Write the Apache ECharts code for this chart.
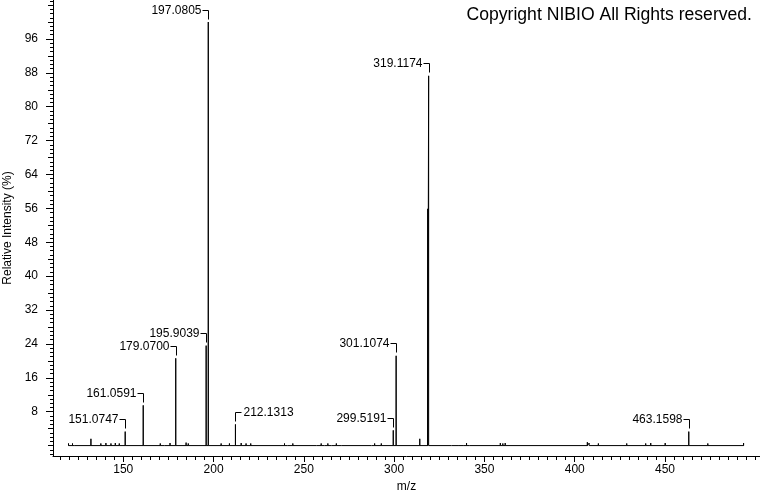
<!DOCTYPE html>
<html><head><meta charset="utf-8">
<script src="https://cdn.jsdelivr.net/npm/echarts@6/dist/echarts.min.js"></script>
<style>html,body{margin:0;padding:0;background:#fff}#c{width:760px;height:492px}</style>
</head><body><div id="c"></div>
<script>
// Minor (unlabelled) peaks: m/z and relative intensity (%)
const minorMz = [119.7,121.9,123.2,132.1,137.6,140.4,143.2,145.6,147.8,170.5,172.7,175.9,184.8,186.0,
  204.2,208.8,215.3,218.0,220.6,239.3,241.1,243.9,256.9,259.6,261.5,263.3,265.2,268.0,270.7,287.4,289.2,292.9,
  314.2,318.6,331.7,335.4,338.2,340.1,341.9,358.8,360.2,361.5,407.0,408.0,413.1,428.8,439.3,442.1,450.1,473.7,493.5];
const minorInt = [0.5,0.5,0.4,1.6,0.5,0.6,0.5,0.6,0.5,0.5,0.4,0.6,0.7,0.5,
  0.5,0.5,0.6,0.5,0.5,0.5,0.4,0.5,0.4,0.5,0.4,0.5,0.4,0.5,0.4,0.4,0.5,0.5,
  1.6,55.9,0.4,0.4,0.4,0.6,0.4,0.6,0.5,0.6,0.8,0.6,0.5,0.5,0.5,0.6,0.6,0.5,0.6];
// Labelled peaks
const labelMz = [151.0747,161.0591,179.0700,195.9039,197.0805,212.1313,299.5191,301.1074,319.1174,463.1598];
const labelInt = [3.3,9.5,20.6,23.6,100,5.0,3.6,21.2,87.3,3.3];
const labelText = ['151.0747','161.0591','179.0700','195.9039','197.0805','212.1313','299.5191','301.1074','319.1174','463.1598'];
const labelSide = ['left','left','left','left','left','right','left','left','left','left'];
// Axis ticks / labels
const xLabelValues = [150,200,250,300,350,400,450];
const yLabelValues = [8,16,24,32,40,48,56,64,72,80,88,96];

const X_MIN = 111.1, X_MAX = 502.6, Y_MIN = -2.46, Y_MAX = 105.2;
const FONT = '"Liberation Sans", Arial, sans-serif';

const peaks = minorMz.map((m,i)=>[m,minorInt[i]]).concat(labelMz.map((m,i)=>[m,labelInt[i]]));
peaks.sort((a,b)=>a[0]-b[0]);
const stickData = [];
peaks.forEach(p=>{ stickData.push([p[0],0]); stickData.push([p[0],p[1]]); stickData.push([p[0],0]); });

const xMinor = []; for (let v = 115; v <= 500; v += 5) xMinor.push(v);
const yMinor = []; for (let v = -2; v <= 105; v += 1) yMinor.push(v);
const yMid = []; for (let v = 0; v <= 104; v += 4) yMid.push(v);

const black = {color:'#000', width:1};
function yAx(ticks, len, showLine, showLabel) {
  return {type:'value', min:Y_MIN, max:Y_MAX, position:'left', gridIndex:0,
    axisLine:{show:showLine, onZero:false, lineStyle:black},
    axisTick:{show:true, length:len, customValues:ticks, lineStyle:black},
    axisLabel:showLabel ? {show:true, customValues:yLabelValues, margin:15, color:'#000', fontSize:12, fontFamily:FONT} : {show:false},
    splitLine:{show:false},
    name: showLabel ? 'Relative Intensity (%)' : '',
    nameLocation:'middle', nameGap:37,
    nameTextStyle:{color:'#000', fontSize:12, fontFamily:FONT}};
}

const chart = echarts.init(document.getElementById('c'), null, {renderer:'canvas'});
chart.setOption({
  animation:false,
  backgroundColor:'#fff',
  title:{text:'Copyright NIBIO All Rights reserved.', right:8, top:6, padding:0,
    textStyle:{fontSize:17.6, fontWeight:'normal', color:'#000', fontFamily:FONT}},
  grid:{left:53, right:0, top:0, bottom:36, containLabel:false, outerBoundsMode:'none'},
  xAxis:[
    {type:'value', min:X_MIN, max:X_MAX, position:'bottom',
      axisLine:{show:true, onZero:false, lineStyle:black},
      axisTick:{show:true, length:6, customValues:xLabelValues, lineStyle:black},
      axisLabel:{show:true, customValues:xLabelValues, margin:8, color:'#000', fontSize:12, fontFamily:FONT},
      splitLine:{show:false},
      name:'m/z', nameLocation:'middle', nameGap:21,
      nameTextStyle:{color:'#000', fontSize:12, fontFamily:FONT}},
    {type:'value', min:X_MIN, max:X_MAX, position:'bottom',
      axisLine:{show:false, onZero:false},
      axisTick:{show:true, length:4, customValues:xMinor, lineStyle:black},
      axisLabel:{show:false}, splitLine:{show:false}}
  ],
  yAxis:[ yAx(yLabelValues, 7, true, true), yAx(yMid, 5, false, false), yAx(yMinor, 3, false, false) ],
  series:[
    {type:'line', xAxisIndex:0, yAxisIndex:0, data:stickData, showSymbol:false, symbol:'none',
      lineStyle:{color:'#000', width:1}, silent:true, clip:true},
    {type:'custom', xAxisIndex:0, yAxisIndex:0, silent:true,
      data: labelMz.map((m,i)=>[m,labelInt[i]]),
      renderItem: function(params, api){
        const i = params.dataIndex;
        const p = api.coord([api.value(0), api.value(1)]);
        const x = Math.round(p[0]) + 0.5;
        const by = Math.round(p[1] - 12.5) + 0.5;
        const left = labelSide[i] === 'left';
        const dx = left ? -6 : 6;
        return {type:'group', children:[
          {type:'polyline', shape:{points:[[x+dx,by],[x,by],[x,by+9]]},
            style:{stroke:'#000', lineWidth:1, fill:null}},
          {type:'text', x: x + dx + (left ? -1 : 2), y: by,
            style:{text:labelText[i], align: left ? 'right' : 'left', verticalAlign:'middle',
              font:'12px ' + FONT, fill:'#000'}}
        ]};
      }}
  ]
});
</script></body></html>
